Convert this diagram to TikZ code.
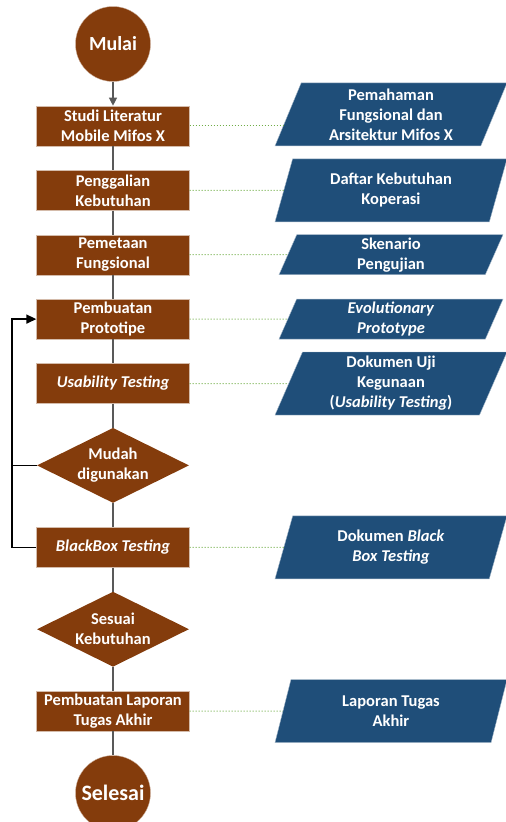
\documentclass[tikz,border=0pt]{standalone}
\usepackage{fontspec}
\setmainfont{Carlito}
\usetikzlibrary{arrows.meta,positioning,shapes.geometric,calc}
\definecolor{brownfill}{HTML}{843C0C}
\definecolor{bluefill}{HTML}{1F4E79}
\definecolor{linkgreen}{HTML}{70AD47}
\tikzset{
terminal/.style={circle,fill=brownfill,draw=brownfill!40,minimum size=75pt,inner sep=0pt,text=white,font=\fontsize{20}{24}\selectfont\bfseries},
process/.style={rectangle,fill=brownfill,draw=brownfill!35,minimum width=153pt,minimum height=40pt,inner sep=1pt,align=center,text=white,font=\fontsize{16.5}{20}\selectfont\bfseries},
decision/.style={diamond,aspect=2,fill=brownfill,minimum width=152pt,minimum height=75pt,inner sep=0pt,align=center,text=white,font=\fontsize{16.5}{20}\selectfont\bfseries},
document/.style={trapezium,trapezium left angle=64,trapezium right angle=116,trapezium stretches body,fill=bluefill,draw=bluefill!40,minimum width=224pt,minimum height=40pt,inner sep=1pt,align=center,text=white,font=\fontsize{16.5}{20}\selectfont\bfseries},
tall/.style={minimum height=63pt,minimum width=232pt},
flow/.style={draw=black!65,line width=1.2pt},
loopback/.style={draw=black,line width=1.6pt},
relation/.style={draw=linkgreen,dotted,line width=1pt}
}
\begin{document}
\begin{tikzpicture}[x=1pt,y=-1pt,node distance=24pt]
\useasboundingbox (0,0) rectangle (506,822);
% main flow
\node[terminal] (start) at (113,44) {Mulai};
\node[process,below=of start] (studi) {Studi Literatur\\Mobile Mifos X};
\node[process,below=of studi] (gali) {Penggalian\\Kebutuhan};
\node[process,below=of gali] (peta) {Pemetaan\\Fungsional};
\node[process,below=of peta] (proto) {Pembuatan\\Prototipe};
\node[process,below=of proto] (usab) {\textit{Usability Testing}};
\node[decision,below=of usab] (mudah) {Mudah\\digunakan};
\node[process,below=of mudah] (bbox) {\textit{BlackBox Testing}};
\node[decision,below=of bbox] (sesuai) {Sesuai\\Kebutuhan};
\node[process,below=of sesuai] (lapor) {Pembuatan Laporan\\Tugas Akhir};
\node[terminal,below=of lapor,font=\fontsize{22}{26}\selectfont\bfseries] (finish) {Selesai};
% outputs
\coordinate (doccol) at (391,0);
\coordinate (loopcol) at (12,0);
\node[document,tall] (pemahaman) at ($(studi -| doccol)+(0,-11.5)$) {Pemahaman\\Fungsional dan\\Arsitektur Mifos X};
\node[document,tall] (daftar) at (gali -| doccol) {Daftar Kebutuhan\\Koperasi};
\node[document] (skenario) at (peta -| doccol) {Skenario\\Pengujian};
\node[document] (evo) at (proto -| doccol) {\textit{Evolutionary}\\\textit{Prototype}};
\node[document,tall] (ujiguna) at (usab -| doccol) {Dokumen Uji\\Kegunaan\\(\textit{Usability Testing})};
\node[document,tall] (dokbb) at (bbox -| doccol) {Dokumen \textit{Black}\\\textit{Box Testing}};
\node[document,tall] (laporan) at (lapor -| doccol) {Laporan Tugas\\Akhir};
% connectors
\draw[flow,-{Triangle[length=8pt,width=8pt]}] (start) -- (studi);
\foreach \a/\b in {studi/gali,gali/peta,peta/proto,proto/usab,usab/mudah,mudah/bbox,bbox/sesuai,sesuai/lapor,lapor/finish}
  \draw[flow] (\a) -- (\b);
\draw[loopback,-{Triangle[length=10pt,width=9pt]}] (bbox.west) -- (bbox.west -| loopcol) |- (proto.west);
\draw[loopback] (mudah.west) -- (mudah.west -| loopcol);
\coordinate (pemin) at ($(pemahaman.west)!0.354!(pemahaman.bottom left corner)$);
\draw[relation] (studi.east) -- (studi.east -| pemin);
\foreach \a/\b in {gali/daftar,peta/skenario,proto/evo,usab/ujiguna,bbox/dokbb,lapor/laporan}
  \draw[relation] (\a.east) -- (\b.west);
\end{tikzpicture}
\end{document}
